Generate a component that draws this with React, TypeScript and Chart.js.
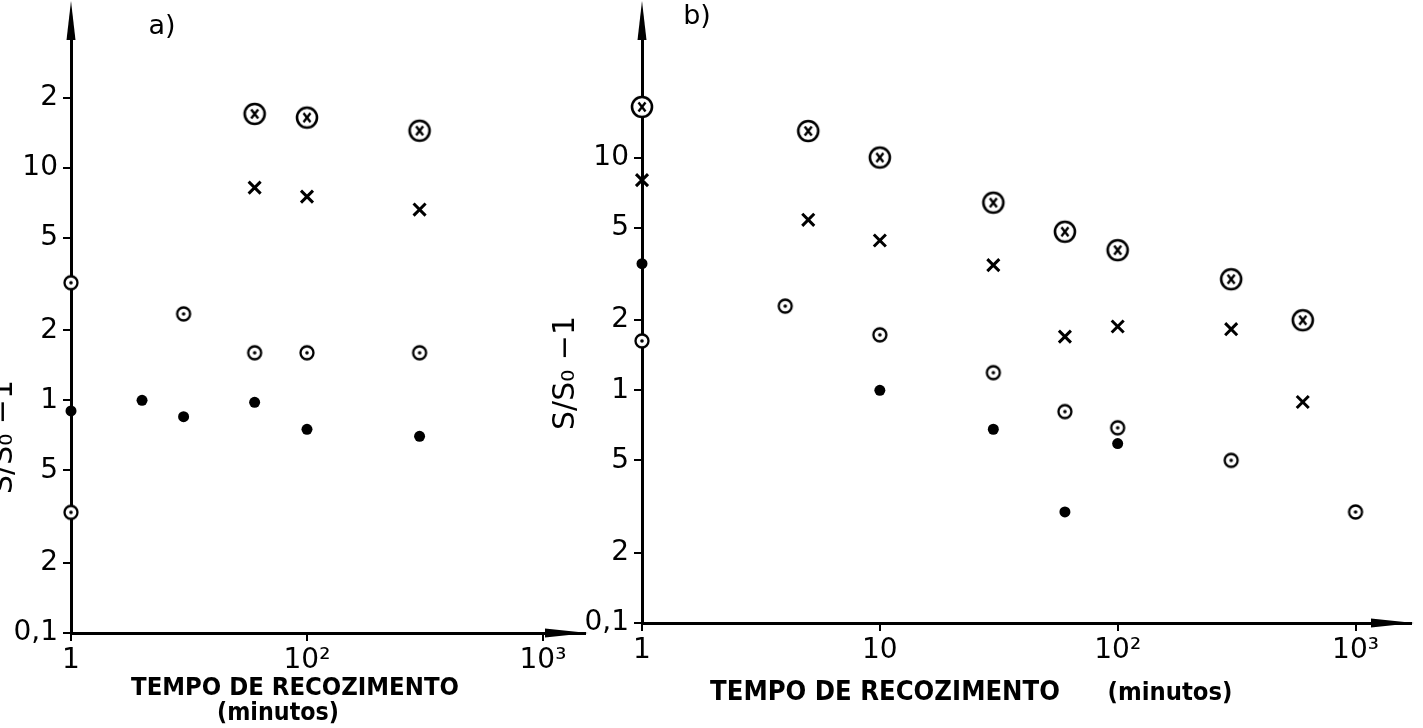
import React, { useEffect, useRef } from "react";
import { Chart, registerables } from "chart.js";

Chart.register(...registerables);

// ---------- Panel a data ----------
const aCircleCrossX = [60, 100, 300];
const aCircleCrossY = [17, 16.4, 14.4];
const aCrossX = [60, 100, 300];
const aCrossY = [8.2, 7.5, 6.6];
const aCircleDotX = [10, 30, 60, 100, 300, 10];
const aCircleDotY = [3.2, 2.35, 1.6, 1.6, 1.6, 0.33];
const aDotX = [10, 20, 30, 60, 100, 300];
const aDotY = [0.9, 1.0, 0.85, 0.98, 0.75, 0.7];

const aXTickValues = [10, 100, 1000];
const aXTickLabels = ["1", "10²", "10³"];
const aYTickValues = [0.1, 0.2, 0.5, 1, 2, 5, 10, 20];
const aYTickLabels = ["0,1", "2", "5", "1", "2", "5", "10", "2"];

// ---------- Panel b data ----------
const bCircleCrossX = [1, 5, 10, 30, 60, 100, 300, 600];
const bCircleCrossY = [16.5, 13, 10, 6.4, 4.8, 4.0, 3.0, 2.0];
const bCrossX = [1, 5, 10, 30, 60, 100, 300, 600];
const bCrossY = [8.0, 5.4, 4.4, 3.45, 1.7, 1.88, 1.83, 0.89];
const bCircleDotX = [1, 4, 10, 30, 60, 100, 300, 1000];
const bCircleDotY = [1.63, 2.3, 1.73, 1.19, 0.81, 0.69, 0.5, 0.3];
const bDotX = [1, 10, 30, 60, 100];
const bDotY = [3.5, 1.0, 0.68, 0.3, 0.59];

const bXTickValues = [1, 10, 100, 1000];
const bXTickLabels = ["1", "10", "10²", "10³"];
const bYTickValues = [0.1, 0.2, 0.5, 1, 2, 5, 10];
const bYTickLabels = ["0,1", "2", "5", "1", "2", "5", "10"];

const axisTitle = "TEMPO DE RECOZIMENTO";
const unitTitle = "(minutos)";
const yTitle = "S/S₀ −1";

function makeMarker(kind: "ox" | "od"): HTMLCanvasElement {
  const s = kind === "ox" ? 28 : 20;
  const c = document.createElement("canvas");
  c.width = s;
  c.height = s;
  const g = c.getContext("2d")!;
  g.strokeStyle = "#000";
  const m = s / 2;
  if (kind === "ox") {
    g.lineWidth = 2.6;
    g.beginPath();
    g.arc(m, m, 10, 0, Math.PI * 2);
    g.fillStyle = "#fff";
    g.fill();
    g.stroke();
    g.lineWidth = 2.4;
    g.beginPath();
    g.moveTo(m - 3.5, m - 4.5);
    g.lineTo(m + 3.5, m + 4.5);
    g.moveTo(m + 3.5, m - 4.5);
    g.lineTo(m - 3.5, m + 4.5);
    g.stroke();
  } else {
    g.lineWidth = 2.3;
    g.beginPath();
    g.arc(m, m, 6.5, 0, Math.PI * 2);
    g.fillStyle = "#fff";
    g.fill();
    g.stroke();
    g.fillStyle = "#000";
    g.beginPath();
    g.arc(m, m, 1.8, 0, Math.PI * 2);
    g.fill();
  }
  return c;
}

function pts(xs: number[], ys: number[]) {
  return xs.map((x, i) => ({ x, y: ys[i] }));
}

type TextItem = {
  text: string;
  x: number;
  y: number;
  width?: number;
  size: number;
  weight: string;
  family: string;
  rotate?: boolean;
};

type PanelDef = {
  xMin: number;
  xMax: number;
  yMin: number;
  yMax: number;
  xTicks: number[];
  xLabels: string[];
  yTicks: number[];
  yLabels: string[];
  yWidth: number;
  xHeight: number;
  padRight: number;
  padTop: number;
  series: { xs: number[]; ys: number[]; kind: string }[];
  texts: TextItem[];
};

function drawText(ctx: CanvasRenderingContext2D, t: TextItem) {
  ctx.save();
  let size = t.size;
  ctx.font = `${t.weight} ${size}px ${t.family}`;
  if (t.width) {
    const w = ctx.measureText(t.text).width;
    size = (size * t.width) / w;
    ctx.font = `${t.weight} ${size}px ${t.family}`;
  }
  ctx.fillStyle = "#000";
  ctx.textAlign = "center";
  ctx.textBaseline = "middle";
  ctx.translate(t.x, t.y);
  if (t.rotate) ctx.rotate(-Math.PI / 2);
  ctx.fillText(t.text, 0, 0);
  ctx.restore();
}

function makeConfig(p: PanelDef): any {
  const ox = makeMarker("ox");
  const od = makeMarker("od");
  const datasets = p.series.map((s) => {
    const base: any = { data: pts(s.xs, s.ys), showLine: false, clip: false };
    if (s.kind === "ox") return { ...base, label: "⊗", pointStyle: ox, pointRadius: 11 };
    if (s.kind === "od") return { ...base, label: "⊙", pointStyle: od, pointRadius: 8 };
    if (s.kind === "x")
      return {
        ...base,
        label: "x",
        pointStyle: "crossRot",
        pointRadius: 8.5,
        borderWidth: 3,
        borderColor: "#000",
        backgroundColor: "#000",
      };
    return {
      ...base,
      label: "•",
      pointStyle: "circle",
      pointRadius: 5.5,
      borderWidth: 0,
      backgroundColor: "#000",
      borderColor: "#000",
    };
  });

  const decor = {
    id: "decor",
    afterDraw(chart: any) {
      const ctx = chart.ctx as CanvasRenderingContext2D;
      const a = chart.chartArea;
      ctx.save();
      ctx.fillStyle = "#000";
      // y arrow
      ctx.beginPath();
      ctx.moveTo(a.left, 1);
      ctx.lineTo(a.left - 4.5, 40);
      ctx.lineTo(a.left + 4.5, 40);
      ctx.closePath();
      ctx.fill();
      ctx.fillRect(a.left - 1.5, 38, 3, a.top - 30);
      // x arrow
      ctx.beginPath();
      ctx.moveTo(a.right + 3, a.bottom);
      ctx.lineTo(a.right - 40, a.bottom - 4.5);
      ctx.lineTo(a.right - 40, a.bottom + 4.5);
      ctx.closePath();
      ctx.fill();
      ctx.restore();
      p.texts.forEach((t) => drawText(ctx, t));
    },
  };

  const tickFont = { family: "'DejaVu Sans', sans-serif", size: 28 };

  return {
    type: "scatter",
    data: { datasets },
    plugins: [decor],
    options: {
      animation: false,
      responsive: false,
      devicePixelRatio: 1,
      events: [],
      layout: { padding: { left: 0, right: p.padRight, top: p.padTop, bottom: 0 } },
      plugins: { legend: { display: false }, tooltip: { enabled: false }, title: { display: false } },
      scales: {
        x: {
          type: "logarithmic",
          position: "bottom",
          min: p.xMin,
          max: p.xMax,
          afterBuildTicks: (s: any) => {
            s.ticks = p.xTicks.map((v) => ({ value: v }));
          },
          afterFit: (s: any) => {
            s.height = p.xHeight;
          },
          ticks: {
            autoSkip: false,
            maxRotation: 0,
            minRotation: 0,
            padding: 3,
            color: "#000",
            font: tickFont,
            callback: (v: number) => {
              const i = p.xTicks.findIndex((t) => Math.abs(t - v) < 1e-9 * Math.max(1, t));
              return i >= 0 ? p.xLabels[i] : "";
            },
          },
          grid: { drawOnChartArea: false, drawTicks: true, tickLength: 8, color: "#000", lineWidth: 2 },
          border: { display: true, color: "#000", width: 3 },
        },
        y: {
          type: "logarithmic",
          position: "left",
          min: p.yMin,
          max: p.yMax,
          afterBuildTicks: (s: any) => {
            s.ticks = p.yTicks.map((v) => ({ value: v }));
          },
          afterFit: (s: any) => {
            s.width = p.yWidth;
          },
          ticks: {
            autoSkip: false,
            padding: 5,
            color: "#000",
            font: tickFont,
            callback: (v: number) => {
              const i = p.yTicks.findIndex((t) => Math.abs(t - v) < 1e-9 * Math.max(1, t) + 1e-12);
              return i >= 0 ? p.yLabels[i] : "";
            },
          },
          grid: { drawOnChartArea: false, drawTicks: true, tickLength: 8, color: "#000", lineWidth: 2 },
          border: { display: true, color: "#000", width: 3 },
        },
      },
    },
  };
}

const A_OFF = -30;
const B_OFF = 540;

const titleFamily = "'DejaVu Sans Condensed', 'DejaVu Sans', sans-serif";
const plainFamily = "'DejaVu Sans', sans-serif";

const panelA: PanelDef = {
  xMin: 10,
  xMax: 1507,
  yMin: 0.1,
  yMax: 42.3,
  xTicks: aXTickValues,
  xLabels: aXTickLabels,
  yTicks: aYTickValues,
  yLabels: aYTickLabels,
  yWidth: 71 - A_OFF,
  xHeight: 728 - 633,
  padRight: 630 - (585 - A_OFF),
  padTop: 12,
  series: [
    { xs: aCircleCrossX, ys: aCircleCrossY, kind: "ox" },
    { xs: aCrossX, ys: aCrossY, kind: "x" },
    { xs: aCircleDotX, ys: aCircleDotY, kind: "od" },
    { xs: aDotX, ys: aDotY, kind: "dot" },
  ],
  texts: [
    { text: "a)", x: 162 - A_OFF, y: 27, size: 27, weight: "normal", family: plainFamily },
    { text: axisTitle, x: 295 - A_OFF, y: 688, width: 328, size: 24, weight: "bold", family: titleFamily },
    { text: unitTitle, x: 278 - A_OFF, y: 714, width: 122, size: 22, weight: "bold", family: titleFamily },
    { text: yTitle, x: 4 - A_OFF, y: 437, size: 30, weight: "normal", family: plainFamily, rotate: true },
  ],
};

const panelB: PanelDef = {
  xMin: 1,
  xMax: 1711,
  yMin: 0.1,
  yMax: 38.3,
  xTicks: bXTickValues,
  xLabels: bXTickLabels,
  yTicks: bYTickValues,
  yLabels: bYTickLabels,
  yWidth: 642 - B_OFF,
  xHeight: 728 - 623,
  padRight: 883 - (1418 - B_OFF),
  padTop: 12,
  series: [
    { xs: bCircleCrossX, ys: bCircleCrossY, kind: "ox" },
    { xs: bCrossX, ys: bCrossY, kind: "x" },
    { xs: bCircleDotX, ys: bCircleDotY, kind: "od" },
    { xs: bDotX, ys: bDotY, kind: "dot" },
  ],
  texts: [
    { text: "b)", x: 697 - B_OFF, y: 17, size: 27, weight: "normal", family: plainFamily },
    { text: axisTitle, x: 885 - B_OFF, y: 693, width: 350, size: 24, weight: "bold", family: titleFamily },
    { text: unitTitle, x: 1170 - B_OFF, y: 693, width: 125, size: 22, weight: "bold", family: titleFamily },
    { text: yTitle, x: 566 - B_OFF, y: 373, size: 30, weight: "normal", family: plainFamily, rotate: true },
  ],
};

export default function App() {
  const refA = useRef<HTMLCanvasElement>(null);
  const refB = useRef<HTMLCanvasElement>(null);
  useEffect(() => {
    const ca = new Chart(refA.current!, makeConfig(panelA));
    const cb = new Chart(refB.current!, makeConfig(panelB));
    return () => {
      ca.destroy();
      cb.destroy();
    };
  }, []);
  return (
    <div
      style={{
        position: "fixed",
        left: 0,
        top: 0,
        width: 1423,
        height: 728,
        overflow: "hidden",
        background: "#fff",
      }}
    >
      <canvas
        ref={refA}
        width={630}
        height={728}
        style={{ position: "absolute", left: A_OFF, top: 0, width: 630, height: 728 }}
      />
      <canvas
        ref={refB}
        width={883}
        height={728}
        style={{ position: "absolute", left: B_OFF, top: 0, width: 883, height: 728 }}
      />
    </div>
  );
}
